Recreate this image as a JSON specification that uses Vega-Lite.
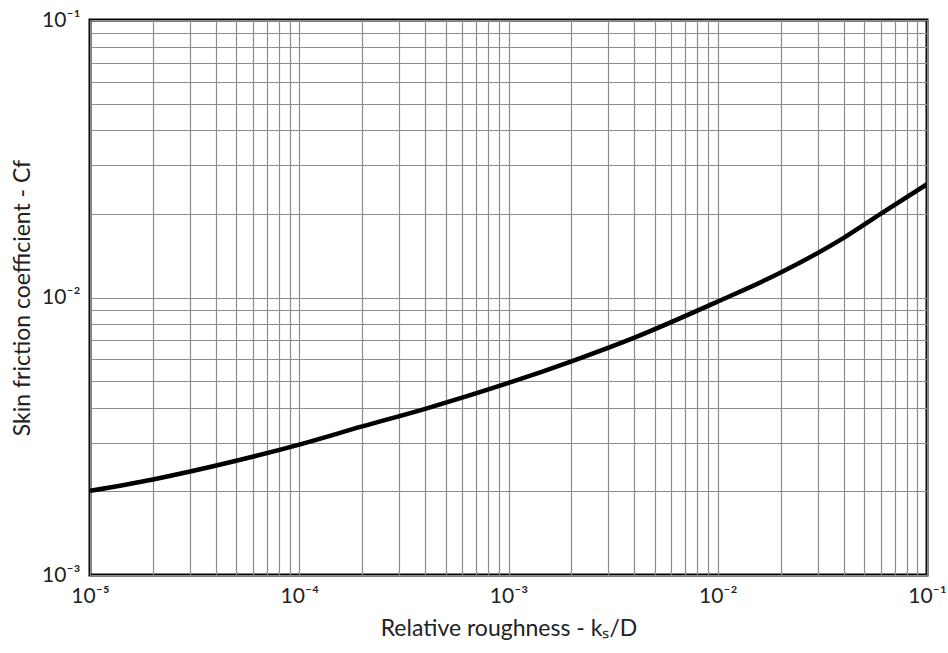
{
  "$schema": "https://vega.github.io/schema/vega-lite/v6.json",
  "width": 837,
  "height": 555,
  "autosize": {"type": "none"},
  "padding": {"left": 90, "top": 20, "right": 21, "bottom": 78},
  "background": "white",
  "config": {
    "view": {"stroke": "black", "strokeWidth": 3},
    "font": "Lato"
  },
  "data": {
    "values": [
      {"k": 0.00001, "cf": 0.00201},
      {"k": 0.00002, "cf": 0.00221},
      {"k": 0.00005, "cf": 0.00258},
      {"k": 0.0001, "cf": 0.00295},
      {"k": 0.0002, "cf": 0.00343},
      {"k": 0.0004, "cf": 0.00397},
      {"k": 0.001, "cf": 0.00492},
      {"k": 0.002, "cf": 0.00589},
      {"k": 0.004, "cf": 0.00717},
      {"k": 0.01, "cf": 0.00967},
      {"k": 0.02, "cf": 0.0123},
      {"k": 0.04, "cf": 0.0164},
      {"k": 0.06, "cf": 0.02},
      {"k": 0.1, "cf": 0.0256}
    ]
  },
  "mark": {"type": "line", "color": "black", "strokeWidth": 4.5, "interpolate": "monotone", "clip": true},
  "encoding": {
    "x": {
      "field": "k",
      "type": "quantitative",
      "scale": {"type": "log", "domain": [0.00001, 0.1], "nice": false},
      "axis": {
        "title": "Relative roughness - kₛ/D",
        "titleFont": "Lato",
        "titleFontSize": 23,
        "titleFontWeight": "normal",
        "titleColor": "#222",
        "titlePadding": 11,
        "values": [0.00001,0.00002,0.00003,0.00004,0.00005,0.00006,0.00007,0.00008,0.00009,0.0001,0.0002,0.0003,0.0004,0.0005,0.0006,0.0007,0.0008,0.0009,0.001,0.002,0.003,0.004,0.005,0.006,0.007,0.008,0.009,0.01,0.02,0.03,0.04,0.05,0.06,0.07,0.08,0.09,0.1],
        "labelExpr": "abs(datum.value/pow(10, round(log(datum.value)/LN10)) - 1) < 0.001 ? '10⁻' + ['⁰','¹','²','³','⁴','⁵'][-round(log(datum.value)/LN10)] : ''",
        "labelFont": "Lato",
        "labelFontSize": 21,
        "labelColor": "#222",
        "labelPadding": 10,
        "labelOverlap": false,
        "labelFlush": false,
        "ticks": false,
        "domain": false,
        "grid": true,
        "gridColor": "#8c8c8c",
        "gridWidth": 1.2
      }
    },
    "y": {
      "field": "cf",
      "type": "quantitative",
      "scale": {"type": "log", "domain": [0.001, 0.1], "nice": false},
      "axis": {
        "title": "Skin friction coefficient - Cf",
        "titleFont": "Lato",
        "titleFontSize": 23,
        "titleFontWeight": "normal",
        "titleColor": "#222",
        "titlePadding": 7,
        "values": [0.001,0.002,0.003,0.004,0.005,0.006,0.007,0.008,0.009,0.01,0.02,0.03,0.04,0.05,0.06,0.07,0.08,0.09,0.1],
        "labelExpr": "abs(datum.value/pow(10, round(log(datum.value)/LN10)) - 1) < 0.001 ? '10⁻' + ['⁰','¹','²','³','⁴','⁵'][-round(log(datum.value)/LN10)] : ''",
        "labelFont": "Lato",
        "labelFontSize": 21,
        "labelColor": "#222",
        "labelPadding": 10,
        "labelOverlap": false,
        "labelFlush": false,
        "ticks": false,
        "domain": false,
        "grid": true,
        "gridColor": "#8c8c8c",
        "gridWidth": 1.2
      }
    }
  }
}
